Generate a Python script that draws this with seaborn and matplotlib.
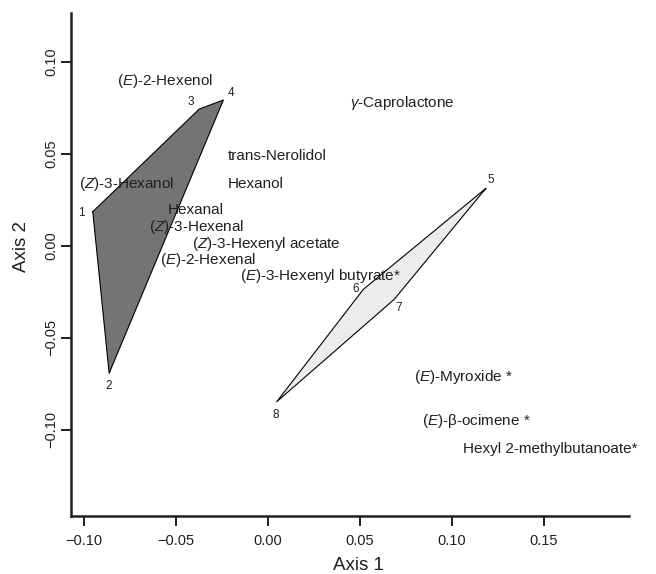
import numpy as np
import pandas as pd
import matplotlib
matplotlib.use("Agg")
import matplotlib.pyplot as plt
import seaborn as sns

# ---- data ----
# group polygons (site scores), vertex order as drawn
g1_ids = ["1", "3", "4", "2"]
g1_axis1 = [-0.0951, -0.0372, -0.0241, -0.0862]
g1_axis2 = [0.0185, 0.0743, 0.0792, -0.0693]

g2_ids = ["5", "6", "8", "7"]
g2_axis1 = [0.1186, 0.0520, 0.0049, 0.0688]
g2_axis2 = [0.0312, -0.0237, -0.0848, -0.0291]

# compound scores (label anchors)
compounds = [r"($\it{E}$)-2-Hexenol", "trans-Nerolidol", r"($\it{Z}$)-3-Hexanol",
             "Hexanol", "Hexanal", r"($\it{Z}$)-3-Hexenal",
             r"($\it{Z}$)-3-Hexenyl acetate", r"($\it{E}$)-2-Hexenal",
             r"($\it{E}$)-3-Hexenyl butyrate*", r"$\it{γ}$-Caprolactone",
             r"($\it{E}$)-Myroxide *", r"($\it{E}$)-β-ocimene *",
             "Hexyl 2-methylbutanoate*"]
comp_axis1 = [-0.0821, -0.0217, -0.1024, -0.0217, -0.0544, -0.0648, -0.0414,
              -0.0585, -0.0151, 0.0447, 0.0797, 0.0837, 0.1060]
comp_axis2 = [0.0873, 0.0466, 0.0312, 0.0312, 0.0172, 0.0080, -0.0014,
              -0.0099, -0.0186, 0.0754, -0.0735, -0.0974, -0.1127]

xticks = [-0.10, -0.05, 0.00, 0.05, 0.10, 0.15]
yticks = [-0.10, -0.05, 0.00, 0.05, 0.10]

# ---- style ----
sns.set_theme(style="ticks")
plt.rcParams["font.family"] = ["Liberation Sans", "DejaVu Sans"]
plt.rcParams["mathtext.fontset"] = "custom"
plt.rcParams["mathtext.rm"] = "Liberation Sans"
plt.rcParams["mathtext.it"] = "Liberation Sans:italic"
plt.rcParams["axes.unicode_minus"] = True

ink = "#231f20"
fig = plt.figure(figsize=(6.56, 5.74), dpi=100)
ax = fig.add_axes([70.7 / 656, 58 / 574, (629 - 70.7) / 656, (516 - 13) / 574])

# offsets (points) for vertex number labels
offsets = {"1": (-6, -1, "right", "center"), "2": (0, -5, "center", "top"),
           "3": (-4, 1, "right", "bottom"), "4": (3, 1, "left", "bottom"),
           "5": (1, 2, "left", "bottom"), "6": (-3, 0, "right", "center"),
           "7": (1, -2, "left", "top"), "8": (-1, -5, "center", "top")}

for ids, xs, ys, fc in [(g1_ids, g1_axis1, g1_axis2, "#737476"),
                        (g2_ids, g2_axis1, g2_axis2, "#ececec")]:
    ax.fill(xs, ys, facecolor=fc, edgecolor="none", zorder=1)
    df = pd.DataFrame({"x": xs + xs[:1], "y": ys + ys[:1]})
    sns.lineplot(data=df, x="x", y="y", sort=False, color="black", lw=0.8,
                 ax=ax, zorder=2, estimator=None)
    for i, xv, yv in zip(ids, xs, ys):
        dx, dy, ha, va = offsets[i]
        ax.annotate(i, (xv, yv), xytext=(dx, dy), textcoords="offset points",
                    ha=ha, va=va, fontsize=8.5, color=ink)

for lab, xv, yv in zip(compounds, comp_axis1, comp_axis2):
    ax.text(xv, yv, lab, ha="left", va="baseline", fontsize=11, color=ink, zorder=3)

ax.set_xlim(-0.1071, 0.1964)
ax.set_ylim(-0.1469, 0.1265)
ax.set_xticks(xticks)
ax.set_yticks(yticks)
ax.set_xticklabels([f"{t:.2f}".replace("-", "\u2212") for t in xticks])
ax.set_yticklabels([f"{t:.2f}".replace("-", "\u2212") for t in yticks],
                   rotation=90, va="center")
ax.tick_params(axis="both", direction="out", length=7, width=1.4, colors=ink,
               labelsize=10.5, labelcolor=ink)
ax.tick_params(axis="x", pad=6)
ax.tick_params(axis="y", pad=2)
for s in ["top", "right"]:
    ax.spines[s].set_visible(False)
for s in ["left", "bottom"]:
    ax.spines[s].set_linewidth(1.8)
    ax.spines[s].set_color(ink)

ax.set_xlabel("Axis 1", fontsize=13.5, color=ink)
ax.set_ylabel("Axis 2", fontsize=13.5, color=ink)
ax.xaxis.set_label_coords((358 - 70.7) / (629 - 70.7), -(566 - 516) / (516 - 13))
ax.xaxis.label.set_va("center")
ax.yaxis.set_label_coords(-(70.7 - 21) / (629 - 70.7), (516 - 247) / (516 - 13))
ax.yaxis.label.set_va("center")

fig.savefig("out.png", dpi=100)
